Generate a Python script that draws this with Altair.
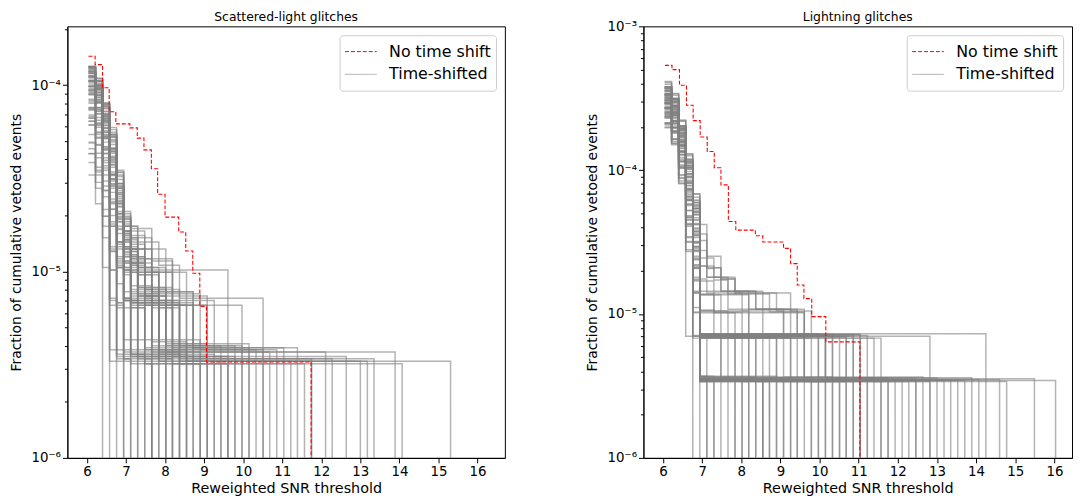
import altair as alt
import pandas as pd

# ---------------- data ----------------
SERIES = ["No time shift", "Time-shifted"]

# reweighted-SNR thresholds at which the step curves change
snr_grid = [6.04, 6.22, 6.40, 6.58, 6.76, 6.94, 7.12, 7.30, 7.48, 7.66, 7.84, 8.02,
            8.19, 8.37, 8.55, 8.72, 8.90, 9.08, 9.26, 9.43, 9.61, 9.79, 9.97, 10.15,
            10.33, 10.51, 10.68, 10.86, 11.04, 11.22, 11.39, 11.57, 11.75, 11.93,
            12.11, 12.28, 12.46, 12.64, 12.82, 13.00, 13.18, 13.35, 13.53, 13.71,
            13.89, 14.07, 14.25, 14.42, 14.60, 14.78, 14.96, 15.14, 15.31, 15.49,
            15.67, 15.85, 16.03]

FLOOR = 1e-7  # "zero" vetoed events (falls below the log axis)

# ---- Scattered-light glitches, no time shift ----
scatter_red_x = [6.04, 6.21, 6.40, 6.57, 6.74, 7.10, 7.29, 7.46, 7.65, 7.81, 8.00,
                 8.35, 8.53, 8.71, 8.89, 9.06, 11.74]
scatter_red_y = [1.43e-4, 1.29e-4, 9.7e-5, 7.2e-5, 6.2e-5, 5.9e-5, 5.2e-5, 4.5e-5,
                 3.56e-5, 2.6e-5, 1.96e-5, 1.63e-5, 1.29e-5, 9.8e-6, 6.5e-6, 3.27e-6, FLOOR]

# ---- Lightning glitches, no time shift ----
lightning_red_x = [6.05, 6.23, 6.42, 6.60, 6.77, 6.95, 7.13, 7.31, 7.48, 7.67, 7.86,
                   8.36, 8.55, 9.08, 9.26, 9.43, 9.60, 9.80, 10.16, 11.03]
lightning_red_y = [5.35e-4, 5.0e-4, 3.89e-4, 2.83e-4, 2.21e-4, 1.70e-4, 1.35e-4, 1.04e-4,
                   7.9e-5, 4.4e-5, 3.83e-5, 3.5e-5, 3.17e-5, 2.86e-5, 2.24e-5, 1.59e-5,
                   1.28e-5, 9.6e-6, 6.4e-6, FLOOR]

# time-shifted curves: (one-event level in 1e-6, [grid index, vetoed count, ...])
scatter_shifted = [
    (3.3, [0, 38, 1, 33, 2, 24, 3, 18, 4, 9, 5, 5, 6, 4, 8, 3, 10, 2, 14, 1, 22, 0]),
    (3.5, [0, 36, 1, 30, 2, 22, 3, 15, 4, 8, 5, 5, 7, 3, 9, 2, 12, 1, 17, 0]),
    (3.8, [0, 33, 1, 28, 2, 21, 3, 14, 4, 9, 5, 5, 6, 4, 9, 3, 12, 2, 16, 1, 25, 0]),
    (3.4, [0, 35, 1, 26, 2, 19, 3, 11, 4, 6, 5, 4, 7, 2, 11, 1, 32, 0]),
    (3.6, [0, 30, 1, 27, 2, 18, 3, 12, 4, 7, 5, 4, 6, 3, 8, 2, 10, 1, 13, 0]),
    (4.0, [0, 31, 1, 25, 2, 16, 3, 10, 4, 6, 5, 3, 8, 2, 13, 1, 19, 0]),
    (3.2, [0, 37, 1, 31, 2, 20, 3, 13, 4, 7, 5, 5, 6, 4, 7, 3, 10, 2, 13, 1, 45, 0]),
    (3.7, [0, 28, 1, 24, 2, 17, 3, 9, 4, 5, 5, 3, 7, 2, 9, 1, 11, 0]),
    (3.9, [0, 27, 1, 22, 2, 15, 3, 8, 4, 5, 5, 4, 6, 3, 8, 2, 15, 1, 28, 0]),
    (3.3, [0, 32, 1, 28, 2, 21, 3, 16, 4, 10, 5, 6, 6, 5, 8, 4, 11, 3, 14, 2, 17, 1, 40, 0]),
    (4.2, [0, 25, 1, 20, 2, 14, 3, 7, 4, 4, 5, 3, 6, 2, 9, 1, 14, 0]),
    (3.5, [0, 29, 1, 23, 2, 16, 3, 9, 4, 6, 5, 3, 6, 2, 10, 1, 20, 0]),
    (3.6, [0, 26, 1, 21, 2, 13, 3, 6, 4, 4, 5, 2, 7, 1, 8, 0]),
    (3.4, [0, 34, 1, 29, 2, 22, 3, 17, 4, 8, 5, 4, 6, 3, 9, 2, 13, 1, 35, 0]),
    (3.8, [0, 24, 1, 19, 2, 12, 3, 7, 4, 3, 6, 2, 8, 1, 12, 0]),
    (3.3, [0, 30, 1, 25, 2, 18, 3, 12, 4, 7, 5, 4, 7, 3, 10, 2, 15, 1, 52, 0]),
    (4.1, [0, 23, 1, 18, 2, 13, 3, 8, 4, 5, 5, 3, 7, 2, 12, 1, 23, 0]),
    (3.5, [0, 21, 1, 17, 2, 11, 3, 5, 4, 3, 5, 2, 6, 1, 7, 0]),
    (3.7, [0, 22, 1, 19, 2, 14, 3, 9, 4, 6, 5, 4, 6, 3, 7, 2, 11, 1, 26, 0]),
    (3.2, [0, 20, 1, 15, 2, 9, 3, 4, 4, 2, 6, 1, 9, 0]),
    (3.9, [0, 19, 1, 16, 2, 12, 3, 6, 4, 3, 5, 2, 8, 1, 30, 0]),
    (3.4, [0, 18, 1, 14, 2, 8, 3, 3, 4, 2, 5, 1, 6, 0]),
    (3.6, [0, 17, 1, 12, 2, 7, 3, 2, 4, 1, 5, 0]),
    (4.0, [0, 16, 1, 13, 2, 9, 3, 5, 4, 3, 6, 2, 9, 1, 21, 0]),
    (3.3, [0, 15, 1, 11, 2, 6, 3, 1, 4, 0]),
    (3.5, [0, 14, 1, 10, 2, 5, 3, 2, 4, 1, 10, 0]),
    (3.8, [0, 12, 1, 9, 2, 4, 3, 1, 27, 0]),
    (3.5, [0, 11, 1, 8, 2, 3, 3, 0]),
    (4.3, [0, 10, 1, 7, 2, 5, 3, 3, 4, 2, 5, 1, 16, 0]),
    (3.3, [0, 10, 1, 7, 2, 0]),
    (3.7, [0, 26, 1, 22, 2, 17, 3, 11, 4, 7, 5, 4, 6, 3, 9, 2, 17, 1, 34, 0]),
    (3.5, [0, 33, 1, 27, 2, 19, 3, 13, 4, 8, 5, 5, 7, 3, 11, 2, 18, 1, 37, 0]),
    (3.3, [0, 28, 1, 23, 2, 15, 3, 10, 4, 6, 5, 4, 6, 3, 8, 2, 22, 1, 39, 0]),
    (3.6, [0, 35, 1, 29, 2, 21, 3, 15, 4, 9, 5, 5, 6, 4, 10, 3, 13, 2, 25, 0]),
    (3.4, [0, 22, 1, 18, 2, 12, 3, 7, 4, 4, 5, 3, 6, 2, 15, 1, 41, 0]),
    (3.4, [0, 36, 1, 30, 2, 23, 3, 16, 4, 10, 5, 6, 6, 5, 9, 3, 20, 0]),
    (3.7, [0, 24, 1, 20, 2, 14, 3, 8, 4, 5, 5, 3, 6, 2, 9, 1, 44, 0]),
    (3.3, [0, 27, 1, 22, 2, 16, 3, 11, 4, 7, 5, 4, 6, 3, 7, 2, 10, 1, 29, 0]),
    (3.5, [0, 19, 1, 15, 2, 10, 3, 5, 4, 3, 5, 2, 7, 1, 15, 0]),
    (3.2, [0, 25, 1, 21, 2, 14, 3, 9, 4, 5, 5, 3, 6, 2, 8, 1, 31, 0]),
    (3.6, [0, 21, 1, 17, 2, 11, 3, 6, 4, 4, 5, 2, 6, 1, 18, 0]),
    (3.8, [0, 29, 1, 24, 2, 18, 3, 12, 4, 7, 5, 4, 7, 3, 8, 2, 12, 1, 24, 0]),
    (3.4, [0, 16, 1, 12, 2, 8, 3, 4, 4, 2, 5, 1, 12, 0]),
    (3.3, [0, 23, 1, 19, 2, 13, 3, 7, 4, 4, 5, 3, 6, 2, 10, 1, 32, 0]),
    (3.5, [0, 32, 1, 26, 2, 19, 3, 13, 4, 8, 5, 5, 6, 3, 8, 2, 11, 1, 19, 0]),
    (3.6, [0, 34, 1, 28, 2, 20, 3, 14, 4, 8, 5, 4, 6, 3, 7, 2, 9, 1, 14, 0]),
    (3.4, [0, 31, 1, 26, 2, 18, 3, 11, 4, 6, 5, 3, 6, 2, 8, 1, 10, 0]),
    (3.9, [0, 30, 1, 25, 2, 17, 3, 10, 4, 6, 5, 4, 6, 3, 9, 2, 12, 1, 17, 0]),
    (3.3, [0, 36, 1, 30, 2, 22, 3, 15, 4, 9, 5, 5, 6, 4, 8, 3, 11, 2, 14, 1, 15, 0]),
    (3.7, [0, 32, 1, 27, 2, 19, 3, 12, 4, 7, 5, 4, 7, 3, 8, 2, 11, 1, 13, 0]),
    (3.5, [0, 27, 1, 23, 2, 16, 3, 9, 4, 5, 5, 3, 6, 2, 9, 1, 11, 0]),
    (3.2, [0, 39, 1, 33, 2, 24, 3, 16, 4, 9, 5, 6, 6, 4, 7, 3, 9, 2, 12, 1, 16, 0]),
    (4.0, [0, 29, 1, 24, 2, 17, 3, 11, 4, 7, 5, 4, 6, 3, 8, 2, 11, 1, 22, 0]),
    (3.6, [0, 25, 1, 21, 2, 15, 3, 8, 4, 4, 5, 2, 6, 1, 9, 0]),
    (3.4, [0, 33, 1, 28, 2, 20, 3, 13, 4, 7, 5, 4, 6, 3, 7, 2, 10, 1, 12, 0]),
    (3.8, [0, 26, 1, 22, 2, 15, 3, 9, 4, 5, 5, 3, 7, 2, 10, 1, 14, 0]),
    (3.3, [0, 34, 1, 29, 2, 21, 3, 14, 4, 8, 5, 5, 6, 4, 9, 3, 12, 2, 13, 1, 18, 0]),
    (3.5, [0, 24, 1, 20, 2, 13, 3, 7, 4, 4, 5, 2, 6, 1, 8, 0]),
    (3.7, [0, 30, 1, 26, 2, 19, 3, 13, 4, 8, 5, 5, 6, 3, 8, 2, 10, 1, 16, 0]),
    (3.2, [0, 33, 1, 27, 2, 19, 3, 12, 4, 6, 5, 4, 6, 2, 8, 1, 20, 0]),
    (4.1, [0, 27, 1, 23, 2, 16, 3, 10, 4, 6, 5, 4, 6, 3, 7, 2, 11, 1, 17, 0]),
    (3.4, [0, 29, 1, 24, 2, 16, 3, 9, 4, 5, 5, 3, 6, 2, 7, 1, 9, 0]),
    (3.6, [0, 23, 1, 18, 2, 12, 3, 5, 4, 3, 5, 1, 7, 0]),
    (3.5, [0, 36, 1, 31, 2, 23, 3, 16, 4, 10, 5, 6, 6, 4, 8, 3, 10, 2, 13, 1, 21, 0]),
    (3.3, [0, 21, 1, 17, 2, 10, 3, 4, 4, 2, 5, 1, 11, 0]),
    (3.9, [0, 31, 1, 27, 2, 20, 3, 14, 4, 8, 5, 5, 6, 4, 8, 3, 12, 2, 15, 1, 23, 0]),
    (3.5, [0, 28, 1, 23, 2, 15, 3, 8, 4, 3, 5, 2, 7, 1, 13, 0]),
    (3.4, [0, 20, 1, 16, 2, 9, 3, 3, 4, 1, 6, 0]),
    (3.7, [0, 18, 1, 15, 2, 10, 3, 5, 4, 3, 5, 1, 9, 0]),
    (3.3, [0, 13, 1, 10, 2, 6, 3, 2, 4, 1, 5, 0]),
]

lightning_shifted = [
    (3.5, [0, 108, 1, 90, 2, 58, 3, 33, 4, 17, 5, 1, 14, 0]),
    (3.6, [0, 104, 1, 86, 2, 55, 3, 30, 4, 15, 5, 2, 12, 1, 29, 0]),
    (3.4, [0, 112, 1, 92, 2, 60, 3, 35, 4, 18, 5, 4, 7, 3, 10, 2, 16, 1, 31, 0]),
    (3.7, [0, 100, 1, 84, 2, 52, 3, 28, 4, 14, 5, 1, 6, 0]),
    (3.5, [0, 96, 1, 80, 2, 50, 3, 27, 4, 12, 5, 2, 9, 1, 22, 0]),
    (3.6, [0, 92, 1, 76, 2, 48, 3, 25, 4, 11, 5, 1, 9, 0]),
    (3.4, [0, 98, 1, 82, 2, 54, 3, 31, 4, 16, 5, 3, 8, 2, 20, 1, 38, 0]),
    (3.55, [0, 88, 1, 72, 2, 44, 3, 22, 4, 10, 5, 1, 11, 0]),
    (3.45, [0, 85, 1, 70, 2, 43, 3, 21, 4, 9, 5, 2, 15, 1, 33, 0]),
    (3.7, [0, 82, 1, 67, 2, 40, 3, 20, 4, 8, 5, 1, 7, 0]),
    (3.5, [0, 106, 1, 88, 2, 57, 3, 34, 4, 17, 5, 12, 6, 7, 7, 6, 8, 5, 10, 4, 18, 3, 21, 2, 27, 1, 45, 0]),
    (3.6, [0, 94, 1, 78, 2, 50, 3, 26, 4, 13, 5, 6, 6, 5, 8, 4, 13, 3, 19, 2, 28, 0]),
    (3.4, [0, 90, 1, 74, 2, 47, 3, 24, 4, 11, 5, 2, 31, 0]),
    (3.5, [0, 86, 1, 71, 2, 45, 3, 23, 4, 10, 5, 3, 12, 2, 38, 0]),
    (3.65, [0, 80, 1, 66, 2, 41, 3, 19, 4, 8, 5, 2, 46, 0]),
    (3.45, [0, 78, 1, 63, 2, 39, 3, 18, 4, 7, 5, 1, 8, 0]),
    (3.55, [0, 75, 1, 60, 2, 36, 3, 16, 4, 6, 5, 1, 10, 0]),
    (3.4, [0, 72, 1, 58, 2, 34, 3, 14, 4, 5, 5, 1, 12, 0]),
    (3.6, [0, 70, 1, 55, 2, 32, 3, 13, 4, 4, 5, 1, 13, 0]),
    (3.5, [0, 66, 1, 52, 2, 30, 3, 12, 4, 4, 5, 1, 15, 0]),
    (3.7, [0, 64, 1, 50, 2, 28, 3, 11, 4, 3, 5, 1, 16, 0]),
    (3.45, [0, 62, 1, 48, 2, 27, 3, 10, 4, 3, 5, 1, 17, 0]),
    (3.55, [0, 60, 1, 46, 2, 25, 3, 9, 4, 2, 5, 1, 18, 0]),
    (3.4, [0, 58, 1, 45, 2, 24, 3, 8, 4, 2, 5, 1, 19, 0]),
    (3.5, [0, 60, 1, 45, 2, 25, 3, 2, 4, 0]),
    (3.5, [0, 102, 1, 85, 2, 56, 3, 32, 4, 16, 5, 5, 6, 4, 11, 3, 17, 2, 22, 1, 40, 0]),
    (3.45, [0, 110, 1, 91, 2, 59, 3, 34, 4, 18, 5, 8, 6, 6, 7, 5, 9, 4, 15, 3, 20, 2, 26, 1, 43, 0]),
    (3.6, [0, 97, 1, 81, 2, 53, 3, 29, 4, 15, 5, 4, 9, 3, 14, 2, 23, 1, 39, 0]),
    (3.5, [0, 84, 1, 69, 2, 42, 3, 21, 4, 9, 5, 2, 10, 1, 21, 0]),
    (3.4, [0, 76, 1, 62, 2, 38, 3, 17, 4, 7, 5, 2, 11, 1, 23, 0]),
    (3.65, [0, 74, 1, 60, 2, 37, 3, 17, 4, 6, 5, 1, 24, 0]),
    (3.5, [0, 68, 1, 54, 2, 31, 3, 13, 4, 5, 5, 2, 8, 1, 25, 0]),
    (3.55, [0, 89, 1, 73, 2, 46, 3, 23, 4, 11, 5, 3, 7, 2, 13, 1, 26, 0]),
    (3.45, [0, 93, 1, 77, 2, 49, 3, 26, 4, 13, 5, 4, 7, 3, 11, 2, 18, 1, 27, 0]),
    (3.6, [0, 101, 1, 83, 2, 54, 3, 31, 4, 16, 5, 2, 20, 1, 32, 0]),
    (3.5, [0, 95, 1, 79, 2, 51, 3, 28, 4, 14, 5, 2, 24, 1, 34, 0]),
    (3.4, [0, 87, 1, 71, 2, 45, 3, 22, 4, 10, 5, 2, 13, 1, 35, 0]),
    (3.55, [0, 83, 1, 68, 2, 42, 3, 20, 4, 9, 5, 1, 36, 0]),
    (3.65, [0, 79, 1, 64, 2, 40, 3, 18, 4, 8, 5, 2, 22, 1, 37, 0]),
    (3.5, [0, 77, 1, 63, 2, 39, 3, 18, 4, 7, 5, 1, 41, 0]),
    (3.45, [0, 71, 1, 57, 2, 33, 3, 14, 4, 6, 5, 1, 42, 0]),
    (3.6, [0, 69, 1, 55, 2, 32, 3, 13, 4, 5, 5, 2, 27, 1, 44, 0]),
    (3.5, [0, 105, 1, 87, 2, 56, 3, 33, 4, 17, 5, 7, 6, 6, 8, 5, 10, 4, 16, 3, 19, 2, 25, 1, 48, 0]),
    (3.4, [0, 99, 1, 82, 2, 53, 3, 30, 4, 15, 5, 5, 7, 4, 12, 3, 20, 2, 30, 1, 49, 0]),
    (3.55, [0, 91, 1, 75, 2, 48, 3, 25, 4, 12, 5, 2, 29, 1, 53, 0]),
    (3.45, [0, 81, 1, 66, 2, 41, 3, 19, 4, 8, 5, 1, 56, 0]),
    (3.6, [0, 115, 1, 95, 2, 62, 3, 36, 4, 19, 5, 10, 6, 7, 8, 5, 10, 4, 14, 3, 20, 2, 28, 1, 32, 0]),
    (3.5, [0, 73, 1, 59, 2, 35, 3, 15, 4, 6, 5, 1, 20, 0]),
    (3.5, [0, 57, 1, 43, 2, 23, 3, 8, 4, 2, 5, 0]),
    (3.55, [0, 107, 1, 89, 2, 57, 3, 32, 4, 16, 5, 2, 10, 1, 17, 0]),
    (3.45, [0, 103, 1, 86, 2, 55, 3, 31, 4, 15, 5, 1, 12, 0]),
    (3.6, [0, 99, 1, 83, 2, 53, 3, 29, 4, 14, 5, 2, 14, 1, 21, 0]),
    (3.5, [0, 95, 1, 79, 2, 50, 3, 27, 4, 12, 5, 1, 10, 0]),
    (3.4, [0, 91, 1, 75, 2, 47, 3, 25, 4, 11, 5, 2, 19, 1, 26, 0]),
    (3.65, [0, 87, 1, 72, 2, 45, 3, 23, 4, 10, 5, 1, 13, 0]),
    (3.5, [0, 84, 1, 69, 2, 43, 3, 21, 4, 9, 5, 2, 16, 1, 24, 0]),
    (3.4, [0, 80, 1, 65, 2, 40, 3, 19, 4, 8, 5, 1, 15, 0]),
    (3.6, [0, 76, 1, 61, 2, 37, 3, 17, 4, 7, 5, 2, 8, 1, 18, 0]),
    (3.5, [0, 72, 1, 57, 2, 34, 3, 15, 4, 6, 5, 1, 11, 0]),
    (3.45, [0, 69, 1, 54, 2, 31, 3, 13, 4, 5, 5, 2, 12, 1, 28, 0]),
    (3.55, [0, 65, 1, 51, 2, 29, 3, 12, 4, 4, 5, 1, 14, 0]),
    (3.6, [0, 110, 1, 92, 2, 61, 3, 35, 4, 18, 5, 6, 6, 5, 8, 4, 12, 3, 17, 2, 24, 1, 30, 0]),
    (3.4, [0, 100, 1, 84, 2, 55, 3, 32, 4, 16, 5, 4, 8, 3, 12, 2, 21, 1, 27, 0]),
    (3.5, [0, 93, 1, 77, 2, 49, 3, 26, 4, 13, 5, 3, 9, 2, 18, 1, 25, 0]),
    (3.55, [0, 86, 1, 70, 2, 44, 3, 22, 4, 10, 5, 2, 23, 0]),
    (3.45, [0, 79, 1, 64, 2, 39, 3, 18, 4, 8, 5, 1, 19, 0]),
    (3.65, [0, 73, 1, 58, 2, 35, 3, 16, 4, 6, 5, 2, 17, 1, 22, 0]),
    (3.5, [0, 67, 1, 53, 2, 30, 3, 12, 4, 4, 5, 1, 16, 0]),
    (3.4, [0, 62, 1, 48, 2, 27, 3, 10, 4, 3, 5, 1, 7, 0]),
    (3.6, [0, 113, 1, 94, 2, 61, 3, 36, 4, 19, 5, 9, 6, 6, 7, 5, 9, 4, 13, 3, 18, 2, 23, 1, 29, 0]),
    (3.5, [0, 97, 1, 80, 2, 52, 3, 29, 4, 14, 5, 2, 26, 1, 36, 0]),
    (3.45, [0, 89, 1, 73, 2, 46, 3, 24, 4, 11, 5, 2, 20, 1, 28, 0]),
    (3.55, [0, 81, 1, 66, 2, 40, 3, 19, 4, 8, 5, 1, 6, 0]),
    (3.5, [0, 59, 1, 44, 2, 24, 3, 9, 4, 2, 6, 1, 14, 0]),
]

panel_titles = ["Scattered-light glitches", "Lightning glitches"]
x_tick_values = [6, 7, 8, 9, 10, 11, 12, 13, 14, 15, 16]
mantissas = [1, 2, 3, 4, 5, 6, 7, 8, 9]
scatter_y_ticks = [m * 1e-6 for m in mantissas] + [m * 1e-5 for m in mantissas] + [1e-4, 2e-4]
lightning_y_ticks = ([m * 1e-6 for m in mantissas] + [m * 1e-5 for m in mantissas]
                     + [m * 1e-4 for m in mantissas] + [1e-3])


# ---------------- tables ----------------
def shifted_table(curves):
    rows = []
    for k, (level, pairs) in enumerate(curves):
        for i in range(0, len(pairs), 2):
            idx, cnt = pairs[i], pairs[i + 1]
            y = cnt * level * 1e-6 if cnt > 0 else FLOOR
            rows.append({"curve": k, "x": snr_grid[idx], "y": y, "series": "Time-shifted"})
    return pd.DataFrame(rows)


def red_table(xs, ys):
    return pd.DataFrame({"x": xs, "y": ys, "series": "No time shift"})


FONT = "DejaVu Sans"
E = "round(log(datum.value)/LN10)"
IS_MAJOR = f"abs(log(datum.value)/LN10 - {E}) < 0.01"
LABEL_EXPR = (f"{IS_MAJOR} ? ({E} == -6 ? '10⁻⁶' : {E} == -5 ? '10⁻⁵' : "
              f"{E} == -4 ? '10⁻⁴' : '10⁻³') : ''")


def panel(gray_df, red_df, title, xdom, ydom, yticks, width, height):
    legend = alt.Legend(
        title=None, orient="top-right", offset=9, fillColor="white",
        strokeColor="#cccccc", cornerRadius=3, padding=5,
        labelFontSize=16, labelFont=FONT, labelColor="black",
        symbolType="stroke", symbolSize=1024, symbolStrokeWidth=1,
        clipHeight=23, labelOffset=12, rowPadding=0,
    )
    color = alt.Color("series:N", scale=alt.Scale(domain=SERIES, range=["#ff0000", "#808080"]),
                      legend=legend)
    dash = alt.StrokeDash("series:N", scale=alt.Scale(domain=SERIES, range=[[4, 2], [1, 0]]),
                          legend=legend)
    opac = alt.Opacity("series:N", scale=alt.Scale(domain=SERIES, range=[1.0, 0.6]),
                       legend=legend)
    x = alt.X("x:Q", scale=alt.Scale(domain=xdom, nice=False, zero=False),
              axis=alt.Axis(title="Reweighted SNR threshold", values=x_tick_values,
                            tickSize=5, labelFontSize=13.5, titleFontSize=14.5,
                            labelPadding=2, titlePadding=3, labelFlush=False))
    y = alt.Y("y:Q", scale=alt.Scale(type="log", domain=ydom, nice=False),
              axis=alt.Axis(title="Fraction of cumulative vetoed events", values=yticks,
                            labelExpr=LABEL_EXPR, labelOverlap=False,
                            tickSize={"condition": {"test": IS_MAJOR, "value": 5}, "value": 3},
                            labelFontSize=13.5, titleFontSize=14, labelPadding=2,
                            titlePadding=8))
    gray = alt.Chart(gray_df).mark_line(interpolate="step-after", strokeWidth=1.5, clip=True).encode(
        x=x, y=y, color=color, strokeDash=dash, opacity=opac, detail="curve:N")
    red = alt.Chart(red_df).mark_line(interpolate="step-after", strokeWidth=1.1, clip=True).encode(
        x=x, y=y, color=color, strokeDash=dash, opacity=opac)
    heading = alt.Chart(pd.DataFrame({"t": [title]})).mark_text(
        font=FONT, fontSize=12.5, color="black", align="center", baseline="alphabetic"
    ).encode(text="t:N", x=alt.value(width / 2), y=alt.value(-5))
    return alt.layer(gray, red, heading).properties(width=width, height=height)


left = panel(shifted_table(scatter_shifted), red_table(scatter_red_x, scatter_red_y),
             panel_titles[0], [5.5, 16.7], [1e-6, 2.07e-4], scatter_y_ticks, 442, 436)
right = panel(shifted_table(lightning_shifted), red_table(lightning_red_x, lightning_red_y),
              panel_titles[1], [5.5, 16.45], [1e-6, 1e-3], lightning_y_ticks, 433, 436)

chart = (
    alt.hconcat(left, right, spacing=79)
    .resolve_scale(x="independent", y="independent")
    .resolve_legend(color="independent", strokeDash="independent", opacity="independent")
    .properties(padding={"left": 0, "top": 0, "right": 0, "bottom": 0})
    .configure_view(stroke="black", strokeWidth=1)
    .configure_axis(grid=False, domainColor="black", tickColor="black", labelColor="black",
                    titleColor="black", labelFont=FONT, titleFont=FONT,
                    titleFontWeight="normal", domainWidth=1, tickWidth=1)
)

chart.save("out.html", embed_options={"renderer": "svg", "actions": False})
